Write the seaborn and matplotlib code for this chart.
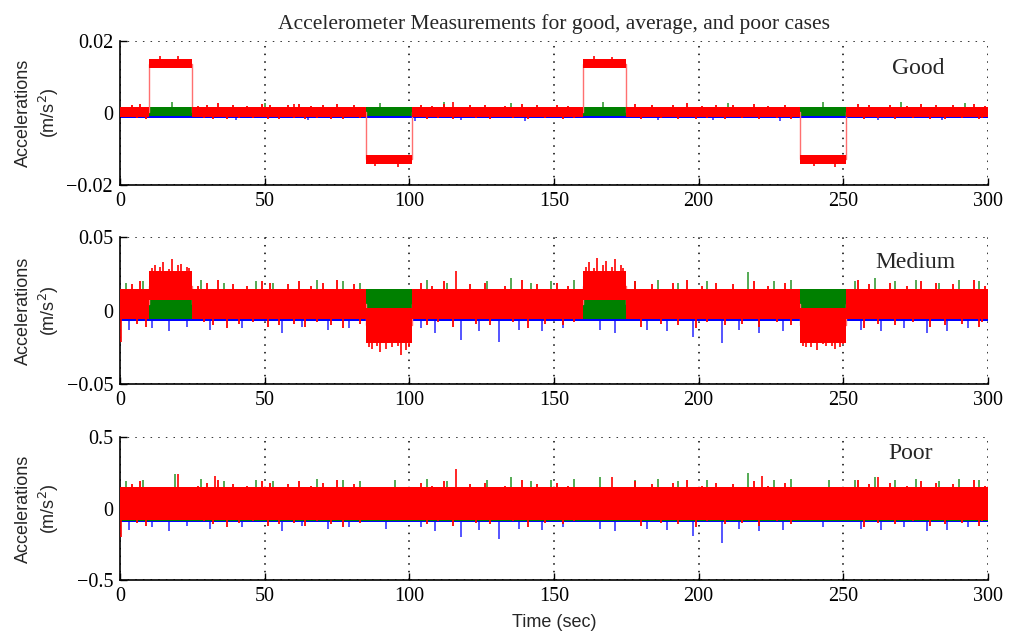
import numpy as np
import pandas as pd
import matplotlib
matplotlib.use("Agg")
import matplotlib.pyplot as plt
import seaborn as sns

# segment boundaries (sec); the red axis shifts during the four motion windows
seg_start = [0, 10, 25, 85, 101, 160, 175, 235, 251]
seg_end = [10, 25, 85, 101, 160, 175, 235, 251, 300]

# times of the small excursions that make the red trace look ragged
edge_up_t = [4, 7, 27, 30, 34, 39, 44, 49, 52, 58, 62, 66, 70, 75, 81, 104, 108, 112, 121, 126,
             133, 139, 144, 151, 155, 178, 184, 191, 196, 201, 206, 212, 219, 224, 230, 255, 259,
             266, 272, 277, 282, 288, 295, 299]
edge_dn_t = [6, 9, 29, 32, 37, 41, 46, 51, 55, 60, 64, 68, 73, 77, 83, 106, 110, 115, 123, 128,
             136, 141, 147, 153, 157, 180, 187, 193, 199, 203, 209, 215, 221, 227, 232, 257, 262,
             268, 274, 280, 285, 291, 297, 298]

# ---- good case: envelope of each axis per segment (m/s^2)
good_red_low = [-0.0010, 0.0125, -0.0010, -0.0140, -0.0010, 0.0125, -0.0010, -0.0140, -0.0010]
good_red_high = [0.0017, 0.0150, 0.0017, -0.0115, 0.0017, 0.0150, 0.0017, -0.0115, 0.0017]
good_green_band = (-0.0008, 0.0018)
good_blue_band = (-0.0013, 0.0008)
good_blue_spike_t = [40, 65, 102, 118, 140, 186, 205, 228, 262, 284]
good_blue_spike_v = [-0.0020, -0.0018, -0.0021, -0.0019, -0.0022, -0.0020, -0.0018, -0.0021, -0.0019, -0.0020]
good_green_spike_t = [18, 50, 90, 112, 135, 167, 210, 243, 270, 292]
good_green_spike_v = [0.0030, 0.0027, 0.0029, 0.0031, 0.0028, 0.0030, 0.0027, 0.0030, 0.0032, 0.0029]
good_red_spike_t = [14, 20, 88, 96, 164, 170, 240, 247, 60, 115]
good_red_spike_v = [0.0160, 0.0158, -0.0148, -0.0150, 0.0160, 0.0157, -0.0147, -0.0149, 0.0025, 0.0030]
good_red_up_v = [0.0022, 0.0025, 0.0021, 0.0024, 0.0027, 0.0022, 0.0021, 0.0025, 0.0023, 0.0022,
                 0.0025, 0.0021, 0.0023, 0.0026, 0.0022, 0.0024, 0.0021, 0.0025, 0.0022, 0.0023,
                 0.0021, 0.0026, 0.0022, 0.0024, 0.0021, 0.0025, 0.0022, 0.0023, 0.0027, 0.0021,
                 0.0024, 0.0022, 0.0025, 0.0021, 0.0023, 0.0026, 0.0022, 0.0024, 0.0021, 0.0025,
                 0.0023, 0.0022, 0.0026, 0.0021]
good_red_dn_v = [-0.0014, -0.0016, -0.0013, -0.0015, -0.0017, -0.0014, -0.0013, -0.0016, -0.0015, -0.0014,
                 -0.0016, -0.0013, -0.0015, -0.0017, -0.0014, -0.0015, -0.0013, -0.0016, -0.0014, -0.0015,
                 -0.0013, -0.0017, -0.0014, -0.0015, -0.0013, -0.0016, -0.0014, -0.0015, -0.0017, -0.0013,
                 -0.0015, -0.0014, -0.0016, -0.0013, -0.0015, -0.0017, -0.0014, -0.0015, -0.0013, -0.0016,
                 -0.0015, -0.0014, -0.0016, -0.0013]

# ---- medium case
med_red_low = [-0.006, 0.007, -0.006, -0.022, -0.006, 0.007, -0.006, -0.022, -0.006]
med_red_high = [0.015, 0.027, 0.015, 0.002, 0.015, 0.027, 0.015, 0.002, 0.015]
med_green_band = (-0.006, 0.015)
med_blue_band = (-0.0072, 0.012)
med_blue_spike_t = [3, 11, 17, 23, 31, 42, 56, 63, 72, 79, 104, 109, 118, 124, 131, 138, 146,
                    153, 166, 171, 182, 189, 198, 208, 214, 221, 229, 256, 263, 271, 279, 286, 293]
med_blue_spike_v = [-0.013, -0.012, -0.014, -0.011, -0.013, -0.012, -0.015, -0.011, -0.013, -0.012,
                    -0.012, -0.015, -0.020, -0.014, -0.021, -0.013, -0.014, -0.012, -0.013, -0.015,
                    -0.013, -0.014, -0.018, -0.022, -0.013, -0.015, -0.014, -0.013, -0.014, -0.012,
                    -0.015, -0.014, -0.012]
med_green_spike_t = [2, 8, 28, 36, 47, 53, 68, 77, 83, 106, 113, 127, 135, 142, 149, 157, 178, 186,
                     193, 203, 217, 226, 232, 254, 261, 268, 275, 283, 290, 297]
med_green_spike_v = [0.019, 0.020, 0.021, 0.019, 0.020, 0.019, 0.021, 0.020, 0.019, 0.021, 0.019,
                     0.020, 0.022, 0.019, 0.020, 0.021, 0.020, 0.021, 0.019, 0.020, 0.026, 0.020,
                     0.021, 0.020, 0.022, 0.020, 0.021, 0.019, 0.021, 0.020]
med_red_spike_t = [0.5, 12, 15, 18, 21, 23, 87, 90, 94, 97, 99, 116, 162, 165, 168, 171, 173,
                   237, 241, 244, 247, 250, 11, 14, 17, 20, 24, 86, 89, 92, 96, 100, 161, 164,
                   167, 170, 174, 236, 239, 243, 246, 249]
med_red_spike_v = [-0.021, 0.031, 0.033, 0.035, 0.032, 0.030, -0.026, -0.028, -0.025, -0.030, -0.027,
                   0.027, 0.033, 0.036, 0.034, 0.035, 0.031, -0.025, -0.027, -0.024, -0.026, -0.023,
                   0.029, 0.030, 0.028, 0.031, 0.029, -0.025, -0.024, -0.026, -0.024, -0.025, 0.030,
                   0.029, 0.031, 0.030, 0.029, -0.024, -0.025, -0.023, -0.024, -0.025]
med_red_up_v = [0.018, 0.020, 0.017, 0.019, 0.021, 0.018, 0.017, 0.020, 0.019, 0.018,
                0.020, 0.017, 0.019, 0.021, 0.018, 0.019, 0.017, 0.020, 0.018, 0.019,
                0.017, 0.021, 0.018, 0.019, 0.017, 0.020, 0.018, 0.019, 0.021, 0.017,
                0.019, 0.018, 0.020, 0.017, 0.019, 0.021, 0.018, 0.019, 0.017, 0.020,
                0.019, 0.018, 0.021, 0.017]
med_red_dn_v = [-0.009, -0.011, -0.008, -0.010, -0.012, -0.009, -0.008, -0.011, -0.010, -0.009,
                -0.011, -0.008, -0.010, -0.012, -0.009, -0.010, -0.008, -0.011, -0.009, -0.010,
                -0.008, -0.012, -0.009, -0.010, -0.008, -0.011, -0.009, -0.010, -0.012, -0.008,
                -0.010, -0.009, -0.011, -0.008, -0.010, -0.012, -0.009, -0.010, -0.008, -0.011,
                -0.010, -0.009, -0.011, -0.008]

# ---- poor case (no visible shift, noise dominates)
poor_red_low = [-0.08] * 9
poor_red_high = [0.15] * 9
poor_green_band = (-0.085, 0.15)
poor_blue_band = (-0.092, 0.14)
poor_blue_spike_t = [3, 11, 17, 23, 31, 42, 56, 63, 72, 79, 92, 104, 109, 118, 124, 131, 138, 146,
                     153, 166, 171, 182, 189, 198, 208, 214, 221, 229, 243, 256, 263, 271, 279, 286, 293]
poor_blue_spike_v = [-0.15, -0.13, -0.16, -0.12, -0.14, -0.13, -0.16, -0.12, -0.14, -0.13, -0.14,
                     -0.13, -0.16, -0.20, -0.15, -0.21, -0.14, -0.15, -0.13, -0.14, -0.16, -0.14,
                     -0.15, -0.19, -0.24, -0.14, -0.16, -0.15, -0.13, -0.14, -0.15, -0.13, -0.16,
                     -0.15, -0.13]
poor_green_spike_t = [2, 8, 19, 28, 36, 47, 53, 68, 77, 83, 95, 106, 113, 127, 135, 142, 149, 157,
                      166, 178, 186, 193, 203, 217, 226, 232, 245, 254, 261, 268, 275, 283, 290, 297]
poor_green_spike_v = [0.19, 0.20, 0.24, 0.21, 0.19, 0.20, 0.19, 0.21, 0.20, 0.19, 0.20, 0.21, 0.19,
                      0.20, 0.22, 0.19, 0.20, 0.21, 0.22, 0.20, 0.21, 0.19, 0.20, 0.25, 0.20, 0.21,
                      0.20, 0.20, 0.22, 0.20, 0.21, 0.19, 0.21, 0.20]
poor_red_spike_t = [0.5, 20, 33, 116, 170, 222, 262]
poor_red_spike_v = [-0.20, 0.24, 0.23, 0.28, 0.22, 0.23, 0.22]
poor_red_up_v = [0.17, 0.19, 0.16, 0.18, 0.20, 0.17, 0.16, 0.19, 0.18, 0.17,
                 0.19, 0.16, 0.18, 0.20, 0.17, 0.18, 0.16, 0.19, 0.17, 0.18,
                 0.16, 0.20, 0.17, 0.18, 0.16, 0.19, 0.17, 0.18, 0.20, 0.16,
                 0.18, 0.17, 0.19, 0.16, 0.18, 0.20, 0.17, 0.18, 0.16, 0.19,
                 0.18, 0.17, 0.20, 0.16]
poor_red_dn_v = [-0.10, -0.12, -0.09, -0.11, -0.13, -0.10, -0.09, -0.12, -0.11, -0.10,
                 -0.12, -0.09, -0.11, -0.13, -0.10, -0.11, -0.09, -0.12, -0.10, -0.11,
                 -0.09, -0.13, -0.10, -0.11, -0.09, -0.12, -0.10, -0.11, -0.13, -0.09,
                 -0.11, -0.10, -0.12, -0.09, -0.11, -0.13, -0.10, -0.11, -0.09, -0.12,
                 -0.11, -0.10, -0.12, -0.09]

# axis settings
x_ticks = [0, 50, 100, 150, 200, 250, 300]
good_yticks = [-0.02, 0, 0.02]
good_ylabels = ["\u22120.02", "0", "0.02"]
med_yticks = [-0.05, 0, 0.05]
med_ylabels = ["\u22120.05", "0", "0.05"]
poor_yticks = [-0.5, 0, 0.5]
poor_ylabels = ["\u22120.5", "0", "0.5"]
case_names = ["Good", "Medium", "Poor"]

RED = "#ff0000"
GREEN = "#008000"
BLUE = "#0000ff"
SERIF = "Liberation Serif"
SANS = "Liberation Sans"

sns.set_theme(style="ticks")
plt.rcParams["font.family"] = ["Liberation Serif", "DejaVu Serif"]
plt.rcParams["axes.unicode_minus"] = True

panels = [
    dict(red_low=good_red_low, red_high=good_red_high, green=good_green_band, blue=good_blue_band,
         bt=good_blue_spike_t, bv=good_blue_spike_v, gt=good_green_spike_t, gv=good_green_spike_v,
         rt=good_red_spike_t, rv=good_red_spike_v, ru=good_red_up_v, rd=good_red_dn_v,
         yticks=good_yticks, ylabels=good_ylabels,
         name=case_names[0], name_x=0.92, name_y=0.81, rect=[0.1188, 0.708, 0.8594, 0.227]),
    dict(red_low=med_red_low, red_high=med_red_high, green=med_green_band, blue=med_blue_band,
         bt=med_blue_spike_t, bv=med_blue_spike_v, gt=med_green_spike_t, gv=med_green_spike_v,
         rt=med_red_spike_t, rv=med_red_spike_v, ru=med_red_up_v, rd=med_red_dn_v,
         yticks=med_yticks, ylabels=med_ylabels,
         name=case_names[1], name_x=0.916, name_y=0.83, rect=[0.1188, 0.394, 0.8594, 0.232]),
    dict(red_low=poor_red_low, red_high=poor_red_high, green=poor_green_band, blue=poor_blue_band,
         bt=poor_blue_spike_t, bv=poor_blue_spike_v, gt=poor_green_spike_t, gv=poor_green_spike_v,
         rt=poor_red_spike_t, rv=poor_red_spike_v, ru=poor_red_up_v, rd=poor_red_dn_v,
         yticks=poor_yticks, ylabels=poor_ylabels,
         name=case_names[2], name_x=0.911, name_y=0.885, rect=[0.1188, 0.085, 0.8594, 0.2256]),
]

fig = plt.figure(figsize=(10.10, 6.34), dpi=100)
fig.patch.set_facecolor("white")

x_step = seg_start + [seg_end[-1]]


def seg_value(t, vals):
    i = np.searchsorted(seg_start, t, side="right") - 1
    return np.asarray(vals)[i]


axes = []
for p in panels:
    ax = fig.add_axes(p["rect"])
    axes.append(ax)

    # blue axis
    b_lo, b_hi = p["blue"]
    ax.fill_between([0, 300], b_lo, b_hi, color=BLUE, lw=0, zorder=2)
    bc = (b_lo + b_hi) / 2
    ax.vlines(p["bt"], bc, p["bv"], color=BLUE, lw=1.1, alpha=0.85, zorder=2.1)

    # green axis
    g_lo, g_hi = p["green"]
    ax.fill_between([0, 300], g_lo, g_hi, color=GREEN, lw=0, zorder=3)
    gc = (g_lo + g_hi) / 2
    ax.vlines(p["gt"], gc, p["gv"], color=GREEN, lw=1.1, alpha=0.85, zorder=3.1)

    # red axis: step envelope + thin transition line
    r_lo = p["red_low"] + [p["red_low"][-1]]
    r_hi = p["red_high"] + [p["red_high"][-1]]
    r_mid = [(a + b) / 2 for a, b in zip(r_lo, r_hi)]
    df = pd.DataFrame({"t": x_step, "a": r_mid})
    sns.lineplot(data=df, x="t", y="a", drawstyle="steps-post", color="#ff7070",
                 lw=1.0, ax=ax, zorder=3.5)
    ax.fill_between(x_step, r_lo, r_hi, step="post", color=RED, lw=0, zorder=4)
    rc = [(seg_value(t, p["red_low"]) + seg_value(t, p["red_high"])) / 2 for t in p["rt"]]
    ax.vlines(p["rt"], rc, p["rv"], color=RED, lw=1.2, zorder=4.1)
    # ragged edges of the red trace on the resting segments
    up_base = [seg_value(t, p["red_high"]) for t in edge_up_t]
    dn_base = [seg_value(t, p["red_low"]) for t in edge_dn_t]
    ax.vlines(edge_up_t, up_base, p["ru"], color=RED, lw=1.3, zorder=4.05)
    ax.vlines(edge_dn_t, dn_base, p["rd"], color=RED, lw=1.3, zorder=4.05)

    ax.set_xlim(0, 300)
    ax.set_ylim(p["yticks"][0], p["yticks"][-1])
    ax.set_xticks(x_ticks)
    ax.set_xticklabels([str(v) for v in x_ticks], fontsize=14.5, family=SERIF)
    ax.set_yticks(p["yticks"])
    ax.set_yticklabels(p["ylabels"], fontsize=14.5, family=SERIF)
    ax.set_xlabel("")
    ax.set_ylabel("Accelerations\n(m/s$^2$)", fontsize=13, family=SANS, linespacing=1.25)
    ax.yaxis.set_label_coords(-0.068, 0.5)
    ax.grid(True, color="black", linestyle=(0, (1, 4)), lw=1.1, zorder=1)
    ax.set_axisbelow(True)
    ax.tick_params(direction="in", length=5, width=1.0, colors="black", pad=5)
    for side in ["top", "right"]:
        ax.spines[side].set_visible(False)
    for side in ["left", "bottom"]:
        ax.spines[side].set_color("black")
        ax.spines[side].set_linewidth(1.2)
    ax.text(p["name_x"], p["name_y"], p["name"], transform=ax.transAxes, ha="center",
            va="center", fontsize=17, family=SERIF, zorder=6)

axes[0].set_title("Accelerometer Measurements for good, average, and poor cases",
                  fontsize=15.5, family=SERIF, pad=9)
axes[-1].set_xlabel("Time (sec)", fontsize=13, family=SANS, labelpad=6)

fig.savefig("out.png", dpi=100, facecolor="white")
